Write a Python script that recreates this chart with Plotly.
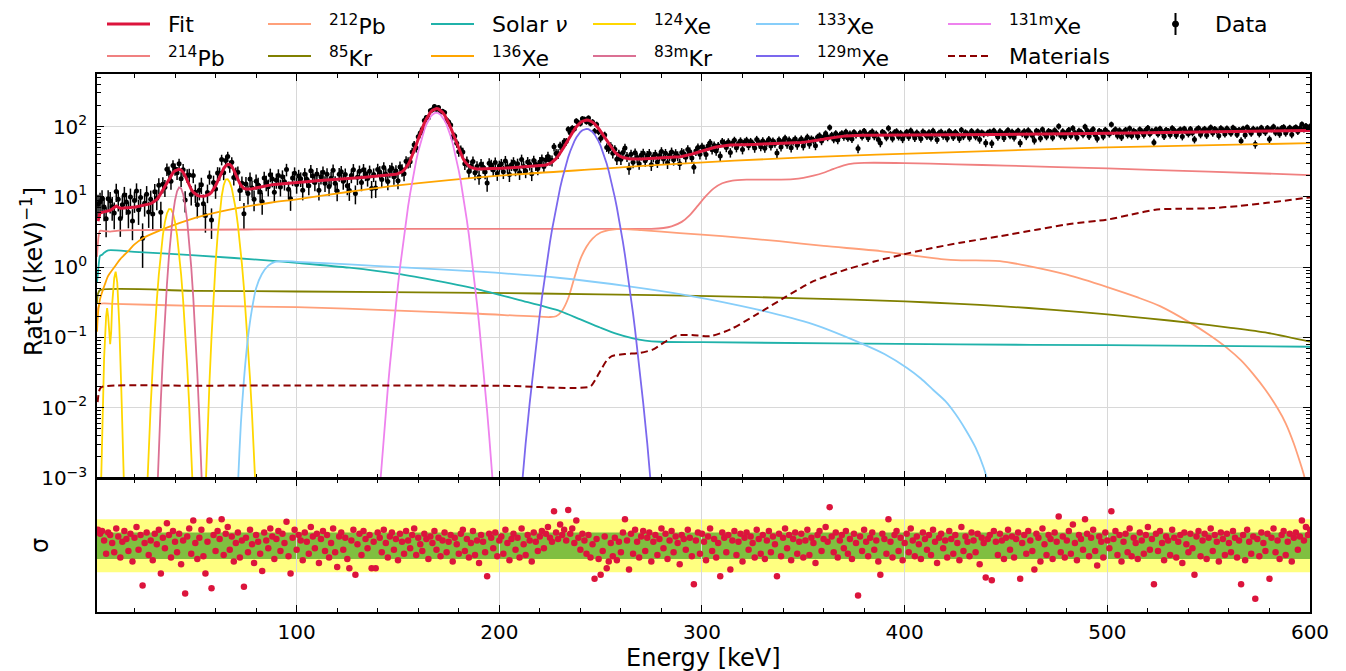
import numpy as np
import plotly.graph_objects as go

FONT = "DejaVu Sans"

# ---------------- binned spectrum (1 keV bins) ----------------
energy = list(range(2, 601))

# best-fit total rate per bin [1/keV]
fit_rate = [
    4.5, 5.9, 6.0, 6.1, 6.2, 6.3, 6.4, 6.7, 7.1, 7.4,            # 2-11
    7.1, 6.9, 6.9, 7.0, 7.0, 7.0, 7.1, 7.1, 7.1, 7.2,            # 12-21
    7.3, 7.3, 7.4, 7.5, 7.6, 7.8, 8.0, 8.3, 8.7, 9.2,            # 22-31
    10.0, 11.2, 12.7, 14.4, 16.3, 18.4, 20.3, 22.0, 23.4, 24.3,  # 32-41
    24.6, 24.0, 22.3, 19.8, 17.0, 14.6, 12.8, 11.6, 10.9, 10.5,  # 42-51
    10.3, 10.2, 10.2, 10.3, 10.5, 10.9, 11.6, 12.8, 14.4, 16.6,  # 52-61
    19.2, 22.2, 25.2, 27.6, 29.0, 28.8, 27.0, 24.0, 20.6, 17.6,  # 62-71
    15.4, 14.0, 13.2, 12.9, 12.8, 12.9, 13.0, 13.2, 13.4, 13.6,  # 72-81
    13.8, 14.0, 14.2, 14.4, 14.6, 14.7, 14.9, 15.0, 15.1, 15.2,  # 82-91
    15.3, 15.4, 15.5, 15.6, 15.7, 15.8, 15.9, 16.0, 16.1, 16.2,  # 92-101
    16.3, 16.3, 16.4, 16.5, 16.6, 16.7, 16.7, 16.8, 16.9, 17.0,  # 102-111
    17.1, 17.1, 17.2, 17.3, 17.4, 17.5, 17.5, 17.6, 17.7, 17.8,  # 112-121
    17.9, 17.9, 18.0, 18.1, 18.2, 18.3, 18.4, 18.5, 18.6, 18.7,  # 122-131
    18.8, 18.9, 19.0, 19.1, 19.2, 19.3, 19.4, 19.5, 19.6, 19.7,  # 132-141
    19.8, 19.9, 20.0, 20.1, 20.2, 20.4, 20.6, 20.9, 21.4, 21.9,  # 142-151
    22.7, 24.0, 25.9, 28.7, 32.6, 38.1, 45.3, 54.6, 66.2, 79.7,  # 152-161
    95.1, 111.7, 128.5, 144.7, 159.0, 170.2, 177.4, 180.0, 177.7, 170.7,  # 162-171
    159.7, 145.6, 129.6, 113.0, 96.6, 81.4, 68.1, 56.8, 47.7, 40.7,       # 172-181
    35.4, 31.6, 29.0, 27.3, 26.2, 25.5, 25.2, 24.9, 24.9, 24.8,  # 182-191
    24.8, 24.9, 24.9, 25.0, 25.1, 25.1, 25.2, 25.2, 25.3, 25.4,  # 192-201
    25.5, 25.6, 25.7, 25.8, 25.9, 26.0, 26.1, 26.2, 26.3, 26.4,  # 202-211
    26.5, 26.6, 26.7, 26.8, 26.9, 27.0, 27.1, 27.3, 27.4, 27.7,  # 212-221
    28.0, 28.4, 29.0, 29.9, 31.1, 32.7, 34.9, 37.8, 41.5, 46.0,  # 222-231
    51.5, 57.9, 65.3, 73.3, 81.9, 90.6, 99.1, 106.9, 113.6, 118.8,        # 232-241
    122.2, 123.6, 122.8, 120.0, 115.3, 109.1, 101.8, 93.7, 85.4, 77.2,    # 242-251
    69.6, 62.5, 56.3, 51.1, 46.8, 43.3, 40.6, 38.6, 37.2, 36.2,  # 252-261
    35.5, 35.0, 34.7, 34.6, 34.4, 34.4, 34.4, 34.5, 34.6, 34.7,  # 262-271
    34.8, 34.9, 35.0, 35.1, 35.2, 35.2, 35.3, 35.4, 35.5, 35.6,  # 272-281
    35.7, 35.9, 36.1, 36.3, 36.5, 36.7, 36.9, 37.2, 37.5, 37.9,  # 282-291
    38.4, 39.0, 39.7, 40.5, 41.3, 42.2, 43.1, 44.0, 45.0, 45.9,  # 292-301
    46.8, 47.7, 48.6, 49.4, 50.2, 51.0, 51.7, 52.3, 52.9, 53.4,  # 302-311
    53.8, 54.1, 54.4, 54.6, 54.8, 54.9, 55.0, 55.1, 55.2, 55.3,  # 312-321
    55.4, 55.5, 55.5, 55.6, 55.7, 55.8, 55.9, 56.0, 56.1, 56.2,  # 322-331
    56.3, 56.4, 56.5, 56.6, 56.7, 56.8, 56.9, 57.0, 57.1, 57.2,  # 332-341
    57.3, 57.5, 57.6, 57.8, 58.1, 58.4, 58.7, 59.1, 59.5, 60.0,  # 342-351
    60.5, 61.0, 61.5, 62.1, 62.8, 63.6, 64.4, 65.2, 66.0, 66.8,  # 352-361
    67.6, 68.4, 69.2, 70.0, 70.7, 71.3, 71.9, 72.5, 73.0, 73.4,  # 362-371
    73.8, 74.1, 74.3, 74.5, 74.6, 74.7, 74.8, 74.9, 75.0, 75.0,  # 372-381
    75.0, 75.0, 75.0, 75.0, 75.0, 75.0, 75.0, 75.0, 75.0, 75.0,  # 382-391
    75.1, 75.1, 75.1, 75.1, 75.1, 75.1, 75.1, 75.1, 75.1, 75.1,  # 392-401
    75.1, 75.1, 75.1, 75.1, 75.1, 75.2, 75.2, 75.2, 75.2, 75.2,  # 402-411
    75.2, 75.2, 75.2, 75.2, 75.2, 75.3, 75.3, 75.3, 75.3, 75.4,  # 412-421
    75.4, 75.5, 75.6, 75.6, 75.7, 75.8, 75.8, 75.9, 76.0, 76.0,  # 422-431
    76.1, 76.2, 76.2, 76.3, 76.4, 76.4, 76.5, 76.6, 76.6, 76.7,  # 432-441
    76.7, 76.8, 76.8, 76.8, 76.9, 76.9, 76.9, 77.0, 77.0, 77.1,  # 442-451
    77.1, 77.2, 77.2, 77.3, 77.4, 77.4, 77.5, 77.5, 77.6, 77.7,  # 452-461
    77.7, 77.8, 77.8, 77.9, 78.0, 78.0, 78.1, 78.1, 78.2, 78.3,  # 462-471
    78.3, 78.4, 78.4, 78.5, 78.6, 78.6, 78.7, 78.7, 78.8, 78.9,  # 472-481
    78.9, 79.0, 79.0, 79.1, 79.2, 79.2, 79.3, 79.3, 79.4, 79.5,  # 482-491
    79.5, 79.6, 79.6, 79.7, 79.8, 79.8, 79.9, 79.9, 80.0, 80.1,  # 492-501
    80.2, 80.2, 80.3, 80.4, 80.5, 80.6, 80.6, 80.7, 80.8, 80.9,  # 502-511
    81.0, 81.0, 81.1, 81.2, 81.3, 81.4, 81.4, 81.5, 81.6, 81.7,  # 512-521
    81.8, 81.8, 81.9, 82.0, 82.1, 82.2, 82.2, 82.3, 82.4, 82.5,  # 522-531
    82.6, 82.6, 82.7, 82.8, 82.9, 83.0, 83.0, 83.1, 83.2, 83.3,  # 532-541
    83.4, 83.4, 83.5, 83.6, 83.7, 83.8, 83.8, 83.9, 84.0, 84.1,  # 542-551
    84.2, 84.2, 84.3, 84.4, 84.5, 84.6, 84.6, 84.7, 84.8, 84.9,  # 552-561
    85.0, 85.0, 85.1, 85.2, 85.3, 85.4, 85.4, 85.5, 85.6, 85.7,  # 562-571
    85.8, 85.8, 85.9, 86.0, 86.1, 86.2, 86.2, 86.3, 86.4, 86.5,  # 572-581
    86.6, 86.6, 86.7, 86.8, 86.9, 87.0, 87.0, 87.1, 87.2, 87.3,  # 582-591
    87.4, 87.4, 87.5, 87.6, 87.7, 87.8, 87.8, 87.9, 88.0,        # 592-600
]

# residual of each bin in units of sigma
pull = [
    1.2, 0.9, 1.1, 0.4, -0.6, 1.0, 0.8, 0.2, -0.5, 1.3,
    0.7, -0.9, 0.3, 1.1, 0.5, -0.4, 0.9, -1.2, 0.6, 1.4,
    -0.3, 0.8, -3.0, 0.2, 1.0, -0.7, 0.4, -1.1, 0.9, 0.1,
    1.2, -2.1, 0.6, -0.2, 1.7, 0.8, -0.9, 1.1, 0.3, -0.5,
    0.9, -1.4, 0.4, -3.6, 0.7, 1.3, -0.6, 1.9, 0.2, -1.0,
    0.6, 1.2, -0.8, -2.1, 0.3, 1.9, -3.2, 0.8, -0.4, 1.1,
    0.5, 2.0, -0.7, 0.9, 1.4, -0.3, 0.7, -1.2, 0.2, 1.0,
    -0.9, 0.4, -3.1, 0.6, -0.5, 1.2, 0.1, -1.3, 0.8, 0.3,
    -0.6, -1.9, 1.0, 0.4, -0.2, 1.3, 0.7, -1.0, 0.5, 1.1,
    -0.4, 0.9, 0.2, 1.8, -0.8, -2.1, 0.6, 1.2, -0.3, 0.8,
    0.4, -1.1, 1.0, 0.3, -0.6, 1.4, 0.7, -0.2, 0.9, -1.3,
    0.5, 1.1, -0.4, 0.8, -0.9, 0.2, 1.3, -0.5, -1.6, 0.7,
    1.0, -0.3, 0.6, -1.0, -1.7, 0.4, 1.2, -2.2, 0.1, 0.9,
    -0.7, 1.1, 0.5, -0.2, 0.8, -1.7, 0.3, -1.7, 1.0, 0.6,
    -0.5, 1.2, 0.2, -0.9, 0.7, 1.0, -0.3, 0.5, -1.1, 0.9,
    0.3, -0.6, 1.1, 0.4, -0.2, 0.8, 1.3, -0.7, 0.6, 0.1,
    -0.4, 0.9, 0.5, -1.0, 0.7, 0.2, 1.1, -0.3, 0.6, -0.8,
    0.4, 1.0, -0.5, 0.3, 0.8, -1.2, 0.6, 0.1, -0.6, 0.9,
    1.2, -0.4, 0.5, -0.9, 0.2, 1.1, -0.7, 0.4, -1.3, 0.8,
    0.3, -0.5, -2.3, 0.9, 0.6, -0.2, 1.0, -0.8, 0.4, 0.7,
    -0.6, 1.2, 0.2, -1.1, 0.5, 0.9, -0.3, 0.6, -0.9, 1.3,
    0.1, -0.7, 0.8, 0.4, -1.2, 1.0, 0.3, -0.4, 0.7, 1.1,
    -0.2, 0.9, 1.4, 0.6, 0.3, 2.6, 1.0, 0.5, 1.6, 0.8,
    1.2, 0.4, 2.7, 0.9, 1.3, 0.2, 1.9, 0.6, -0.3, 0.9,
    0.4, -0.6, 0.8, -0.9, 0.1, -2.5, 0.5, -1.0, -2.2, -0.4,
    0.7, -1.7, -1.2, 0.2, -0.8, 0.6, -1.1, 0.3, -0.5, 1.0,
    2.0, 0.4, -1.8, 0.9, -0.6, 1.2, 0.3, -0.9, 0.7, 1.1,
    -0.4, 0.6, 1.0, -1.2, 0.3, 0.8, -0.7, 0.5, 1.3, -0.2,
    0.9, -1.0, 0.4, 1.1, -0.5, 0.7, 0.2, -1.4, 0.8, 0.5,
    -0.3, 1.2, 0.6, -0.8, -2.9, 0.4, 1.0, -0.6, 0.9, 0.3,
    -1.1, 0.7, 1.3, -0.4, 0.5, -0.9, 0.2, -2.3, 1.0, 0.6,
    -0.5, 0.8, -1.8, 0.4, 1.1, -0.7, 0.3, 0.9, -1.2, 0.6,
    1.0, -0.3, 0.7, 0.2, -0.9, 1.2, 0.5, -0.6, 0.8, -1.0,
    0.4, 1.1, -0.5, 0.7, 0.1, -2.3, 0.9, -0.8, 0.6, 1.3,
    -0.2, 0.8, -1.1, 0.5, 1.0, -0.6, 0.3, 0.9, -0.9, 0.4,
    1.2, -0.7, 0.6, 0.2, -1.3, 0.8, 1.1, -0.4, 0.5, 1.4,
    0.3, 2.9, 0.7, -0.5, 1.0, -0.9, 0.4, 0.8, -0.2, 1.1,
    -0.6, 0.5, -1.0, 0.9, 0.2, -3.75, 0.7, -0.4, 1.2, 0.3,
    -0.8, 0.6, 1.0, -0.3, 0.4, -1.2, -2.2, 0.9, 0.5, -0.6,
    2.0, 0.3, -0.9, 0.8, 1.1, -0.4, 0.6, -1.1, 0.2, 0.9,
    -0.5, 1.3, 0.4, -0.8, 0.7, 0.1, -1.0, 1.0, 0.5, -0.3,
    0.8, -0.7, 1.2, 0.3, -1.3, 0.6, 0.9, -0.2, 0.4, -0.9,
    1.1, 0.5, -0.6, 0.8, 0.2, -1.1, 1.4, -0.4, 0.7, 0.3,
    -0.8, 1.0, 0.4, -0.5, 0.9, -1.4, 0.6, 0.2, -2.4, 0.5,
    0.8, -2.6, 1.1, 0.3, -0.7, 0.9, 0.4, -1.0, 0.6, 1.2,
    -0.3, 0.7, -0.9, 0.5, 1.0, -2.5, 0.2, 0.8, -0.6, 1.1,
    0.4, -0.4, -1.8, 0.9, 0.6, -1.2, 1.3, 0.1, -0.7, 0.8,
    0.5, -1.0, 1.0, 0.3, 2.2, -0.5, 0.7, -0.9, 0.4, 1.1,
    -0.6, 1.6, 0.2, -1.1, 0.8, 0.5, -0.3, 2.0, 0.9, -0.8,
    0.6, 1.2, -0.4, -1.5, 0.7, 0.3, -0.9, 1.0, 0.4, -0.2,
    2.6, 0.5, 1.1, -0.7, 0.8, -1.2, 0.3, 0.9, -0.5, 1.3,
    -0.8, 0.6, 0.2, -1.0, 1.0, 0.4, -0.6, 0.8, 1.4, -0.3,
    0.5, -2.9, 0.9, -0.4, 1.1, 0.2, -1.1, 0.7, 0.4, -0.7,
    1.2, 0.6, -0.9, 0.3, 0.8, -1.3, 1.0, 0.1, -0.5, 0.9,
    -0.2, -2.2, 0.7, 1.1, -0.8, 0.4, 0.9, -1.0, 0.6, 1.3,
    -0.4, 0.8, 0.3, -1.2, 1.0, 0.5, -0.7, 0.9, 0.2, -0.5,
    1.1, 0.6, -0.9, 0.4, -2.9, 0.8, -1.1, 1.2, 0.3, -0.6,
    0.7, -4.0, 0.5, -0.8, 1.0, 0.2, -0.4, 0.9, -2.5, 0.6,
    1.3, -0.5, 0.4, -1.0, 0.8, 1.1, -0.7, 0.3, 0.9, -1.2,
    0.6, 1.0, -0.3, 0.7, 1.9, 0.4, 1.4, 0.8, 1.2,
]

# ---------------- fitted components (energy nodes, rate) ----------------
pb214_e = [1.5, 2, 2.5, 3, 5, 8, 12, 20, 50, 100, 150, 200, 250, 275, 281, 285, 290,
           294, 298, 302, 306, 310, 315, 322, 335, 345, 350, 355, 360, 365, 370, 375,
           380, 400, 425, 450, 500, 550, 600]
pb214_r = [1.4, 2.3, 3.0, 3.3, 3.25, 3.2, 3.3, 3.35, 3.4, 3.45, 3.5, 3.5, 3.5, 3.5, 3.6,
           3.8, 4.4, 5.5, 7.5, 10.3, 13.3, 15.6, 17.0, 17.5, 17.6, 17.9, 18.6, 20.0,
           22.0, 25.0, 28.0, 29.8, 30.4, 30.2, 29.0, 27.8, 25.3, 22.8, 20.4]

pb212_e = [1.5, 2, 3, 10, 50, 100, 150, 190, 225, 228, 231, 234, 237, 240, 243, 246,
           250, 254, 258, 262, 270, 289, 310, 338, 360, 388, 405, 418, 428, 440, 447,
           460, 480, 500, 515, 526, 541, 550, 559, 566, 572, 578, 584, 588, 592, 595,
           597, 599]
pb212_r = [0.15, 0.26, 0.3, 0.3, 0.28, 0.27, 0.24, 0.217, 0.195, 0.2, 0.24, 0.36, 0.7,
           1.3, 1.95, 2.55, 3.1, 3.35, 3.47, 3.47, 3.35, 3.05, 2.75, 2.34, 2.0, 1.69,
           1.45, 1.3, 1.25, 1.24, 1.22, 1.05, 0.78, 0.52, 0.37, 0.279, 0.161, 0.11,
           0.071, 0.047, 0.03, 0.018, 0.0098, 0.006, 0.0031, 0.0017, 0.0011, 0.0006]

kr85_e = [1.5, 2, 3, 50, 100, 190, 250, 304, 350, 400, 427, 447, 475, 500, 520, 541,
          560, 579, 600]
kr85_r = [0.3, 0.42, 0.47, 0.46, 0.45, 0.43, 0.41, 0.387, 0.36, 0.325, 0.30, 0.279,
          0.245, 0.212, 0.187, 0.161, 0.138, 0.116, 0.087]

solar_e = [1.5, 2, 2.5, 3, 4, 5, 7, 20, 50, 90, 100, 126, 150, 170, 190, 210, 230, 240,
           250, 258, 266, 272, 279, 300, 427, 500, 600]
solar_r = [0.6, 0.85, 1.2, 1.45, 1.5, 1.6, 1.73, 1.65, 1.47, 1.22, 1.15, 0.98, 0.8, 0.63,
           0.48, 0.34, 0.237, 0.18, 0.137, 0.112, 0.0966, 0.09, 0.0867, 0.0855, 0.0794,
           0.0775, 0.0736]

xe136_e = [1.5, 2, 3, 5.4, 7, 10.4, 13, 16.9, 20, 24.3, 30, 38.3, 49.9, 66.3, 87.7, 100,
           126, 150, 200, 250, 279, 350, 422, 500, 600]
xe136_r = [0.12, 0.22, 0.35, 0.57, 0.75, 1.03, 1.3, 1.69, 2.1, 2.6, 3.1, 3.85, 5.0, 6.5,
           8.3, 9.2, 11.8, 14.5, 20, 25, 28.5, 36.5, 43, 50.5, 58]

xe124_e = ([3, 4, 5, 6, 6.5, 7, 7.5, 8, 8.5, 9, 10, 10.7, 11.5, 12.5, 13.5, 14.5, 15.5]
           + list(range(25, 51)) + list(range(54, 82)))
xe124_r = [2e-4, 0.003, 0.05, 0.2, 0.26, 0.2, 0.11, 0.08, 0.12, 0.3, 0.7, 0.86, 0.6,
           0.15, 0.018, 0.002, 1.5e-4,
           9.8e-5, 5.4e-4, 0.0026, 0.0108, 0.0392, 0.123, 0.333, 0.785, 1.60, 2.84,
           4.36, 5.80, 6.68, 6.68, 5.80, 4.36, 2.84, 1.60, 0.785, 0.333, 0.123, 0.0392,
           0.0108, 0.0026, 5.4e-4, 9.8e-5,
           9.2e-5, 7e-4, 0.00442, 0.0232, 0.101, 0.367, 1.11, 2.79, 5.82, 10.1, 14.6,
           17.6, 17.8, 16.1, 13.2, 9.81, 6.6, 4.03, 2.22, 1.11, 0.503, 0.206, 0.0767,
           0.0258, 0.00787, 0.00217, 5.4e-4, 1.2e-4]

kr83m_e = list(range(30, 55))
kr83m_r = [7e-5, 4.7e-4, 0.00265, 0.0129, 0.0532, 0.187, 0.56, 1.43, 3.09, 5.7, 8.95,
           12.0, 13.6, 13.2, 10.9, 7.62, 4.55, 2.31, 1.0, 0.368, 0.115, 0.0308,
           0.00698, 0.00135, 2.2e-4]

xe133_e = [70.5, 71.2, 72.5, 74, 76, 77.8, 80, 82.8, 86, 89.3, 95, 100, 126, 150, 190,
           230, 263, 292, 327, 355, 380, 390, 401, 408, 414, 420, 425, 430, 435, 439,
           442, 445]
xe133_r = [2e-4, 0.001, 0.006, 0.025, 0.1, 0.237, 0.5, 0.79, 1.05, 1.19, 1.22, 1.19,
           1.09, 1.0, 0.86, 0.7, 0.537, 0.40, 0.25, 0.153, 0.079, 0.058, 0.037, 0.026,
           0.018, 0.0125, 0.0082, 0.0049, 0.0027, 0.0014, 7e-4, 3e-4]

xe129m_e = ([207, 209, 211, 213, 215, 217, 219] + list(range(220, 268))
            + [269, 271, 273, 275, 277, 279])
xe129m_r = [3.3e-5, 1.65e-4, 7.5e-4, 0.0031, 0.0117, 0.0403, 0.127,
            0.217, 0.363, 0.593, 0.949, 1.48, 2.27, 3.38, 4.94, 7.04, 9.82, 13.4, 17.8,
            23.2, 29.5, 36.7, 44.5, 52.9, 61.4, 69.7, 77.2, 83.6, 88.5, 91.6, 92.7,
            91.6, 88.5, 83.6, 77.2, 69.7, 61.4, 52.9, 44.5, 36.7, 29.5, 23.2, 17.8, 13.4,
            9.82, 7.04, 4.94, 3.38, 2.27, 1.48, 0.949, 0.593, 0.363, 0.217, 0.127,
            0.0403, 0.0117, 0.0031, 7.5e-4, 1.65e-4, 3.3e-5]

xe131m_e = list(range(140, 199))
xe131m_r = [3.0e-4, 7.3e-4, 0.00173, 0.00397, 0.00883, 0.019, 0.0397, 0.0803, 0.157,
            0.299, 0.551, 0.983, 1.70, 2.85, 4.63, 7.30, 11.1, 16.5, 23.6, 32.8, 44.2,
            57.6, 72.9, 89.4, 106.1, 122.2, 136.4, 147.5, 154.6, 157.0, 154.6, 147.5,
            136.4, 122.2, 106.1, 89.4, 72.9, 57.6, 44.2, 32.8, 23.6, 16.5, 11.1, 7.30,
            4.63, 2.85, 1.70, 0.983, 0.551, 0.299, 0.157, 0.0803, 0.0397, 0.019,
            0.00883, 0.00397, 0.00173, 7.3e-4, 3.0e-4]

mat_e = [1.8, 2.5, 3.5, 50, 100, 200, 244.8, 247, 250, 253, 255.5, 262, 269.5, 276, 280,
         284, 287.6, 295, 304, 314, 327, 340, 355, 371.5, 385, 399.5, 413, 427.4, 447.2,
         465, 480, 500.6, 512, 524.5, 535, 549.2, 565, 578.8, 590, 600]
mat_r = [0.012, 0.017, 0.0195, 0.0205, 0.0207, 0.0205, 0.020, 0.024, 0.034, 0.047,
         0.0542, 0.058, 0.0604, 0.0675, 0.08, 0.095, 0.107, 0.108, 0.104, 0.13, 0.212,
         0.358, 0.63, 0.93, 1.2, 1.52, 1.85, 2.22, 2.76, 3.4, 4.05, 4.77, 5.6, 6.6,
         6.75, 6.84, 7.4, 8.2, 9.0, 9.8]

# ---------------- observed rate recovered from model and pull ----------------
fit_arr = np.asarray(fit_rate, dtype=float)
pull_arr = np.asarray(pull, dtype=float)
# pull = (obs - model) / sqrt(obs)  ->  solve for obs
root = (pull_arr + np.sqrt(pull_arr ** 2 + 4.0 * fit_arr)) / 2.0
data_rate = root ** 2
data_err = np.sqrt(data_rate)

# ---------------- page geometry ----------------
W, H = 1346, 671
ML, MR, MT, MB = 97, 36, 74, 59
PW, PH = W - ML - MR, H - MT - MB


def paper_x(px):
    return (px - ML) / PW


def paper_y(py):
    return (H - MB - py) / PH


fig = go.Figure()

# data points with Poisson error bars
fig.add_trace(go.Scatter(
    x=energy, y=data_rate, mode="markers", name="Data",
    marker=dict(color="black", size=5),
    error_y=dict(type="data", array=data_err, color="black", thickness=1.5, width=0),
    xaxis="x", yaxis="y", showlegend=False,
))

components = [
    # name, energies, rates, colour, width, dash, shape, legend column, legend row
    ("<sup>214</sup>Pb", pb214_e, pb214_r, "#F08080", 1.8, "solid", "spline", 0, 1),
    ("<sup>212</sup>Pb", pb212_e, pb212_r, "#FFA07A", 1.8, "solid", "spline", 1, 0),
    ("<sup>85</sup>Kr", kr85_e, kr85_r, "#808000", 1.8, "solid", "spline", 1, 1),
    ("Solar <i>ν</i>", solar_e, solar_r, "#20B2AA", 1.8, "solid", "spline", 2, 0),
    ("<sup>136</sup>Xe", xe136_e, xe136_r, "#FFA500", 1.8, "solid", "spline", 2, 1),
    ("<sup>124</sup>Xe", xe124_e, xe124_r, "#FFD700", 1.8, "solid", "linear", 3, 0),
    ("<sup>83m</sup>Kr", kr83m_e, kr83m_r, "#DB7093", 1.8, "solid", "linear", 3, 1),
    ("<sup>133</sup>Xe", xe133_e, xe133_r, "#87CEFA", 1.8, "solid", "spline", 4, 0),
    ("<sup>129m</sup>Xe", xe129m_e, xe129m_r, "#7B68EE", 1.8, "solid", "linear", 4, 1),
    ("<sup>131m</sup>Xe", xe131m_e, xe131m_r, "#EE82EE", 1.8, "solid", "linear", 5, 0),
    ("Materials", mat_e, mat_r, "#8B0000", 2.0, "7px,4px", "spline", 5, 1),
]
for name, ex, ry, col, lw, dash, shape, _c, _r in components:
    line = dict(color=col, width=lw, dash=dash, shape=shape)
    if shape == "spline":
        line["smoothing"] = 0.7
    fig.add_trace(go.Scatter(x=ex, y=ry, mode="lines", name=name, line=line,
                             xaxis="x", yaxis="y", showlegend=False))

# total fit on top
FIT_COLOR = "#DC143C"
fig.add_trace(go.Scatter(
    x=energy, y=fit_rate, mode="lines", name="Fit",
    line=dict(color=FIT_COLOR, width=3), xaxis="x", yaxis="y", showlegend=False,
))

# residual panel
fig.add_trace(go.Scatter(
    x=energy, y=pull, mode="markers", showlegend=False, name="Residual",
    marker=dict(color=FIT_COLOR, size=6.5), xaxis="x2", yaxis="y2",
))

# +-2 sigma and +-1 sigma bands
fig.add_shape(type="rect", xref="x2 domain", yref="y2", x0=0, x1=1, y0=-2, y1=2,
              fillcolor="rgb(255,255,128)", line=dict(width=0), layer="below")
fig.add_shape(type="rect", xref="x2 domain", yref="y2", x0=0, x1=1, y0=-1, y1=1,
              fillcolor="rgb(128,191,64)", line=dict(width=0), layer="below")

# ---------------- axes ----------------
GRID = "#d8d8d8"
dec_vals = [1e-3, 1e-2, 1e-1, 1, 10, 100]
dec_text = ["10<sup>−3</sup>", "10<sup>−2</sup>", "10<sup>−1</sup>",
            "10<sup>0</sup>", "10<sup>1</sup>", "10<sup>2</sup>"]
minor_vals = [m * 10.0 ** p for p in range(-3, 3) for m in range(2, 10)]

axis_common = dict(showline=True, linecolor="black", linewidth=1.5, zeroline=False,
                   ticks="inside", tickcolor="black", tickwidth=1.2, ticklen=7)

fig.update_layout(
    xaxis=dict(domain=[0, 1], anchor="y", range=[1.5, 600], dtick=100, tick0=0,
               showticklabels=False, showgrid=True, gridcolor=GRID, gridwidth=1,
               mirror="allticks",
               minor=dict(ticks="inside", ticklen=4, dtick=20, tick0=0,
                          tickcolor="black", showgrid=False),
               **axis_common),
    yaxis=dict(domain=[0.2491, 1], anchor="x", type="log", range=[-3, 2.747],
               tickvals=dec_vals, ticktext=dec_text, tickfont=dict(size=20),
               showgrid=True, gridcolor=GRID, gridwidth=1, mirror="allticks",
               ticklabelstandoff=4,
               minor=dict(ticks="inside", ticklen=4, tickvals=minor_vals,
                          tickcolor="black", showgrid=False),
               **axis_common),
    xaxis2=dict(domain=[0, 1], anchor="y2", matches="x", range=[1.5, 600],
                tickvals=[100, 200, 300, 400, 500, 600], tickfont=dict(size=20),
                showgrid=True, gridcolor=GRID, gridwidth=1, mirror="allticks",
                ticklabelstandoff=1,
                minor=dict(ticks="inside", ticklen=4, dtick=20, tick0=0,
                           tickcolor="black", showgrid=False),
                **axis_common),
    yaxis2=dict(domain=[0, 0.2465], anchor="x2", range=[-5, 5], showticklabels=False,
                showgrid=False, showline=True, linecolor="black", linewidth=1.5,
                mirror=True, zeroline=False, ticks=""),
)

# ---------------- legend key: two rows of line samples and labels ----------------
col_px = [107, 268, 431, 593, 756, 948, 1154]
row_px = [24, 56]
KEY_LEN, TEXT_GAP = 43, 59
LEGEND_FONT = dict(family=FONT, size=22, color="black")

key_entries = [("Fit", FIT_COLOR, 3.0, "solid", 0, 0)] + [
    (name, col, lw, dash, c, r) for name, _e, _r, col, lw, dash, _s, c, r in components
]
for label, col, lw, dash, c, r in key_entries:
    x0, y0 = col_px[c], row_px[r]
    fig.add_shape(type="line", xref="paper", yref="paper",
                  x0=paper_x(x0), x1=paper_x(x0 + KEY_LEN),
                  y0=paper_y(y0), y1=paper_y(y0),
                  line=dict(color=col, width=lw, dash=dash))
    fig.add_annotation(text=label, x=paper_x(x0 + TEXT_GAP), y=paper_y(y0 + 1),
                       xref="paper", yref="paper", showarrow=False, font=LEGEND_FONT,
                       xanchor="left", yanchor="middle")

# data key: point with a vertical error bar
dx, dy = col_px[6] + KEY_LEN / 2, row_px[0]
fig.add_shape(type="line", xref="paper", yref="paper",
              x0=paper_x(dx), x1=paper_x(dx), y0=paper_y(dy - 11), y1=paper_y(dy + 11),
              line=dict(color="black", width=2))
fig.add_shape(type="circle", xref="paper", yref="paper",
              x0=paper_x(dx - 3), x1=paper_x(dx + 3), y0=paper_y(dy - 3), y1=paper_y(dy + 3),
              fillcolor="black", line=dict(color="black", width=1))
fig.add_annotation(text="Data", x=paper_x(col_px[6] + TEXT_GAP), y=paper_y(dy + 1),
                   xref="paper", yref="paper", showarrow=False, font=LEGEND_FONT,
                   xanchor="left", yanchor="middle")

# ---------------- axis titles ----------------
fig.add_annotation(text="Energy [keV]", x=paper_x(704), y=paper_y(658), xref="paper",
                   yref="paper", showarrow=False, font=dict(size=24),
                   xanchor="center", yanchor="middle")
fig.add_annotation(text="Rate [(keV)<sup>−1</sup>]", x=paper_x(32), y=paper_y(272),
                   xref="paper", yref="paper", showarrow=False, textangle=-90,
                   font=dict(size=24), xanchor="center", yanchor="middle")
fig.add_annotation(text="σ", x=paper_x(40), y=paper_y(546), xref="paper", yref="paper",
                   showarrow=False, textangle=-90, font=dict(size=24),
                   xanchor="center", yanchor="middle")

fig.update_layout(
    width=W, height=H, margin=dict(l=ML, r=MR, t=MT, b=MB),
    paper_bgcolor="white", plot_bgcolor="white",
    font=dict(family=FONT, size=20, color="black"),
    showlegend=False,
)

fig.write_html("out.html")
